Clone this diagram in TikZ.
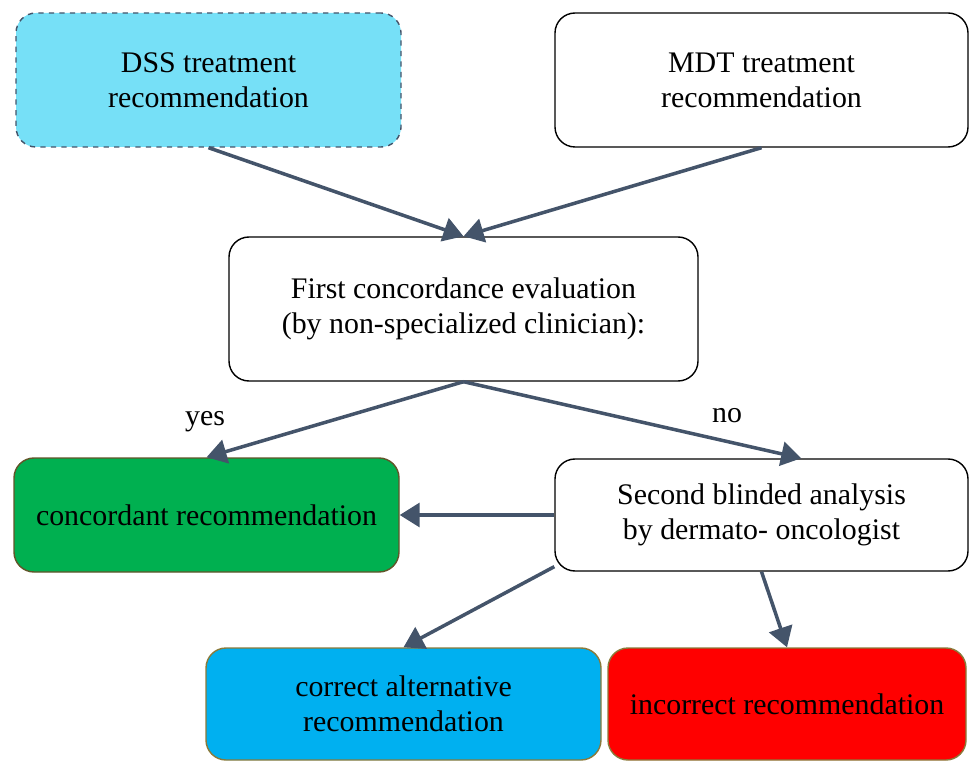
\documentclass[tikz,border=0pt]{standalone}
\usepackage{fontspec}
\setmainfont{Liberation Serif}
\usetikzlibrary{arrows.meta}
\definecolor{arrowgray}{HTML}{44546A}
\definecolor{dsscyan}{HTML}{76E0F7}
\definecolor{concgreen}{HTML}{00B050}
\definecolor{altblue}{HTML}{00B0F0}
\definecolor{edgebrown}{HTML}{8A7A3A}
\begin{document}
\begin{tikzpicture}[-{Triangle[length=0.4cm,width=0.48cm]}]
    \tikzstyle{box}=[rectangle,rounded corners=0.4cm,draw=black,line width=0.8pt,fill=white,align=center,font=\fontsize{17}{20}\selectfont,inner sep=2pt]
    \tikzstyle{link}=[draw=arrowgray,line width=2pt]
    \useasboundingbox (0,0) rectangle (19.38,-15.28);

    \node[box,draw=arrowgray,dashed,fill=dsscyan,minimum width=7.7cm,minimum height=2.68cm] (dss) at (4.17,-1.6) {DSS treatment\\recommendation};
    \node[box,minimum width=8.26cm,minimum height=2.68cm] (mdt) at (15.23,-1.6) {MDT treatment\\recommendation};
    \node[box,minimum width=9.38cm,minimum height=2.88cm] (first) at (9.27,-6.18) {First concordance evaluation\\(by non-specialized clinician):};
    \node[box,draw=edgebrown!70!black,fill=concgreen,minimum width=7.7cm,minimum height=2.28cm] (conc) at (4.13,-10.3) {concordant recommendation};
    \node[box,minimum width=8.26cm,minimum height=2.24cm] (second) at (15.23,-10.3) {Second blinded analysis\\by dermato- oncologist};
    \node[box,draw=edgebrown,fill=altblue,minimum width=7.9cm,minimum height=2.24cm] (alt) at (8.07,-14.08) {correct alternative\\recommendation};
    \node[box,draw=edgebrown,fill=red,minimum width=7.16cm,minimum height=2.24cm] (wrong) at (15.74,-14.08) {incorrect recommendation};

    \node[font=\fontsize{17}{20}\selectfont] (yes) at (4.1,-8.44) {yes};
    \node[font=\fontsize{17}{20}\selectfont] (no) at (14.54,-8.32) {no};

    \foreach \from/\to in {dss.south/first.north, mdt.south/first.north, first.south/conc.north, first.south/second.55, second.west/conc.east, second.194/alt.north, second.south/wrong.north}
        \draw[link] (\from) -- (\to);
\end{tikzpicture}
\end{document}
